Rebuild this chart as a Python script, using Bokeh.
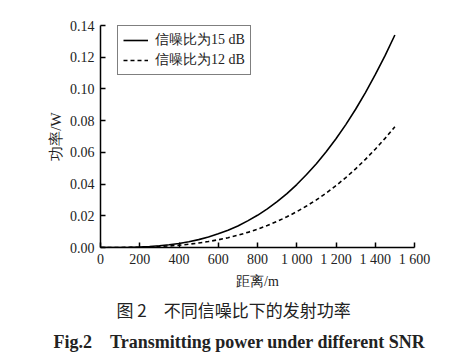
from bokeh.plotting import figure
from bokeh.models import Range1d, FixedTicker, NumeralTickFormatter, Title, Legend, LegendItem
from bokeh.embed import file_html
from bokeh.resources import INLINE

distance = [0, 50, 100, 150, 200, 250, 300, 350, 400, 450, 500, 550, 600, 650, 700, 750,
            800, 850, 900, 950, 1000, 1050, 1100, 1150, 1200, 1250, 1300, 1350, 1400, 1450, 1500]
power_15db = [0, 0.000005, 0.00004, 0.000134, 0.00032, 0.00062, 0.00107, 0.0017, 0.00254,
              0.0036, 0.00496, 0.0066, 0.0086, 0.0109, 0.0136, 0.0168, 0.0203, 0.0244,
              0.0289, 0.034, 0.0397, 0.046, 0.0528, 0.0604, 0.0686, 0.0775, 0.0872, 0.0977,
              0.109, 0.121, 0.134]
power_12db = [0, 0.000003, 0.00002, 0.000076, 0.00018, 0.00035, 0.00061, 0.00097, 0.00144,
              0.00206, 0.00282, 0.00376, 0.00488, 0.0062, 0.00774, 0.00953, 0.01156, 0.01387,
              0.01646, 0.01936, 0.02258, 0.02614, 0.03005, 0.03434, 0.03901, 0.0441, 0.0496,
              0.0556, 0.062, 0.0688, 0.0762]
x_ticks = [0, 200, 400, 600, 800, 1000, 1200, 1400, 1600]
x_tick_labels = ["0", "200", "400", "600", "800", "1 000", "1 200", "1 400", "1 600"]
y_ticks = [0.0, 0.02, 0.04, 0.06, 0.08, 0.10, 0.12, 0.14]
series_names = ["信噪比为15 dB", "信噪比为12 dB"]
caption_cn = "图 2\u3000不同信噪比下的发射功率"
caption_en = "Fig.2\u00a0\u00a0\u00a0\u00a0Transmitting power under different SNR"

SERIF = "Liberation Serif"
CJK = "Noto Sans CJK SC"

p = figure(width=468, height=357, output_backend="svg", toolbar_location=None,
           x_range=Range1d(0, 1600), y_range=Range1d(0, 0.14),
           min_border_left=100, min_border_right=54, min_border_top=25, min_border_bottom=110)
p.outline_line_color = None
p.grid.visible = False
p.background_fill_color = "white"

r1 = p.line(distance, power_15db, line_color="black", line_width=1.6)
r2 = p.line(distance, power_12db, line_color="black", line_width=1.6, line_dash="4 3")

for ax in (p.xaxis[0], p.yaxis[0]):
    ax.axis_line_color = "black"
    ax.axis_line_width = 1.5
    ax.major_tick_in = 5
    ax.major_tick_out = 0
    ax.major_tick_line_width = 1.5
    ax.minor_tick_line_color = None
    ax.major_label_text_font = SERIF
    ax.major_label_text_font_size = "14px"
    ax.major_label_text_color = "#222222"
    ax.axis_label_text_font = SERIF
    ax.axis_label_text_font_size = "14px"
    ax.axis_label_text_font_style = "normal"
    ax.axis_label_text_color = "#222222"

p.xaxis[0].ticker = FixedTicker(ticks=x_ticks)
p.xaxis[0].major_label_overrides = {t: l for t, l in zip(x_ticks, x_tick_labels)}
p.xaxis[0].axis_label = "距离/m"
p.xaxis[0].major_label_standoff = 4
p.xaxis[0].axis_label_standoff = 4

p.yaxis[0].ticker = FixedTicker(ticks=y_ticks)
p.yaxis[0].formatter = NumeralTickFormatter(format="0.00")
p.yaxis[0].axis_label = "功率/W"
p.yaxis[0].axis_label_text_font_size = "15px"
p.yaxis[0].major_label_standoff = 6
p.yaxis[0].axis_label_standoff = 3

legend = Legend(items=[LegendItem(label=series_names[0], renderers=[r1]),
                       LegendItem(label=series_names[1], renderers=[r2])],
                location=(17, 172), border_line_color="black", border_line_width=1.2,
                padding=5, spacing=2, glyph_height=18, glyph_width=25, label_standoff=7,
                label_text_font=SERIF, label_text_font_size="14px", label_text_color="#222222",
                margin=0, background_fill_alpha=1)
p.add_layout(legend)

t1 = Title(text=caption_cn, align="left", text_font=CJK, text_font_size="17px",
           text_font_style="normal", text_color="#222222", offset=16, standoff=7)
t2 = Title(text=caption_en, align="left", text_font=SERIF, text_font_size="18px",
           text_font_style="bold", text_color="#222222", offset=-47, standoff=8)
p.add_layout(t1, "below")
p.add_layout(t2, "below")

open("out.html", "w").write(file_html(p, INLINE))
